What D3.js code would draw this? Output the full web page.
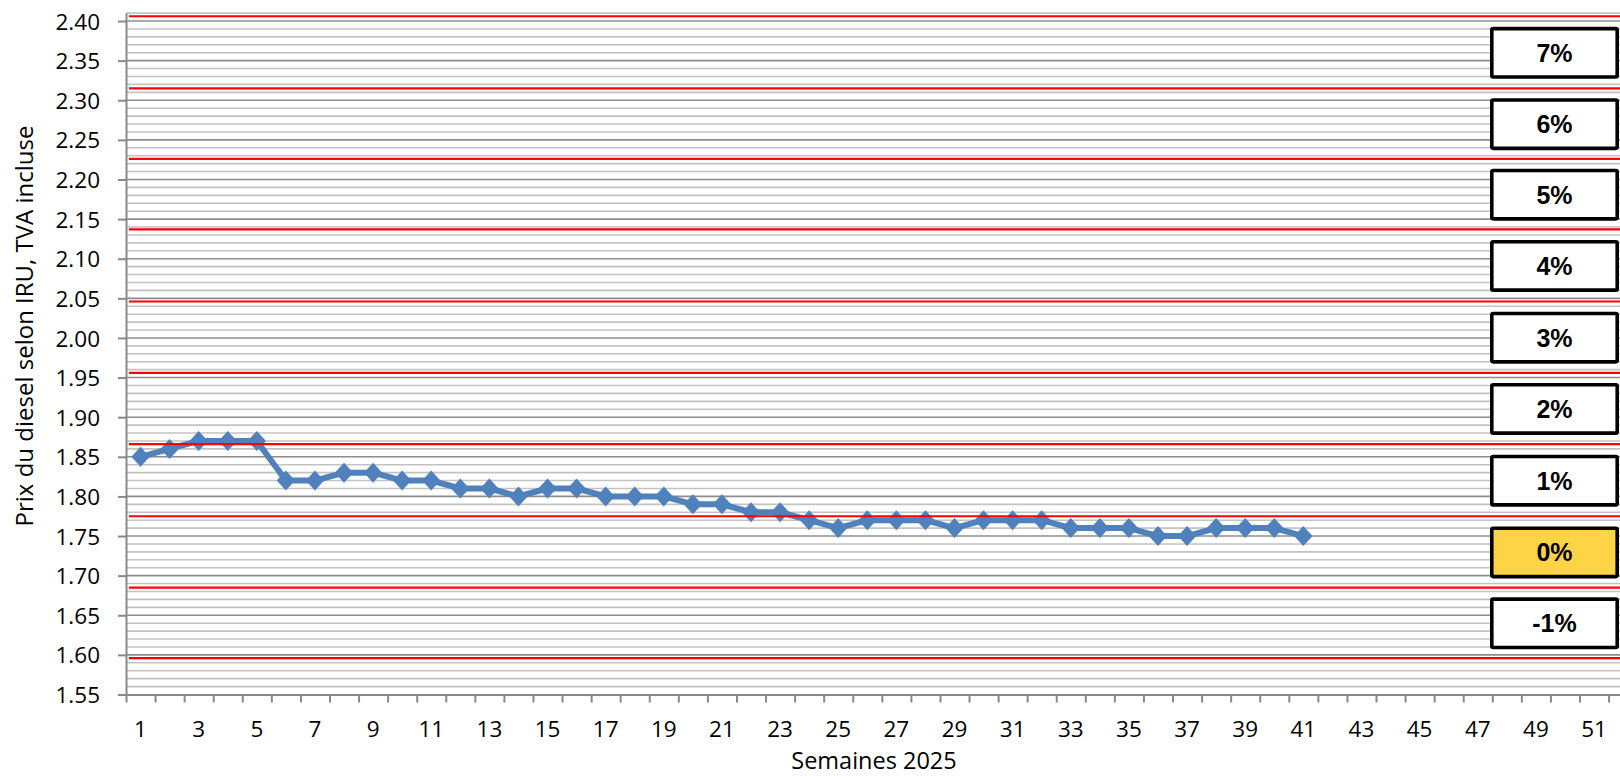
<!DOCTYPE html>
<html>
<head>
<meta charset="utf-8">
<script src="https://cdn.jsdelivr.net/npm/d3@7"></script>
<style>
  html, body { margin: 0; padding: 0; background: #fff; }
  svg { display: block; font-family: "Open Sans", sans-serif; }
</style>
</head>
<body>
<div id="chart"></div>
<script>
// weeks on the category axis
const weeks = d3.range(1, 53);
const weekLabels = [1, 3, 5, 7, 9, 11, 13, 15, 17, 19, 21, 23, 25, 27, 29, 31, 33, 35, 37, 39, 41, 43, 45, 47, 49, 51];

// diesel price per week (weeks 1..41)
const prices = [
  1.85, 1.86, 1.87, 1.87, 1.87, 1.82, 1.82, 1.83, 1.83, 1.82,
  1.82, 1.81, 1.81, 1.80, 1.81, 1.81, 1.80, 1.80, 1.80, 1.79,
  1.79, 1.78, 1.78, 1.77, 1.76, 1.77, 1.77, 1.77, 1.76, 1.77,
  1.77, 1.77, 1.76, 1.76, 1.76, 1.75, 1.75, 1.76, 1.76, 1.76,
  1.75
];

// red threshold lines and the surcharge bands between them
const bandEdges = [1.596, 1.685, 1.775, 1.866, 1.956, 2.046, 2.137, 2.226, 2.315, 2.406];
const bandLabels = ["-1%", "0%", "1%", "2%", "3%", "4%", "5%", "6%", "7%"];
const currentBand = "0%";

const yTicks = [1.55, 1.60, 1.65, 1.70, 1.75, 1.80, 1.85, 1.90, 1.95, 2.00,
                2.05, 2.10, 2.15, 2.20, 2.25, 2.30, 2.35, 2.40];
const yMin = 1.55, yMax = 2.41, minorStep = 0.01;

const width = 1620;
const height = 776;
const marginLeft = 126;
const bandStep = 29.07;
const plotTop = 13.1;
const plotBottom = 694.5;

const blue = "#4f81bd";
const gridMajor = "#8c8c8c";
const gridMinor = "#c3c3c3";
const axisColor = "#898989";

const x = d3.scaleBand()
  .domain(weeks)
  .range([marginLeft, marginLeft + weeks.length * bandStep]);

const xEdge = d3.scaleLinear()
  .domain([0, weeks.length])
  .range(x.range());

const y = d3.scaleLinear()
  .domain([yMin, yMax])
  .range([plotBottom, plotTop]);

const svg = d3.select("#chart")
  .append("svg")
  .attr("width", width)
  .attr("height", height)
  .attr("viewBox", [0, 0, width, height]);

// gridlines
const nMinor = Math.round((yMax - yMin) / minorStep);
const gridValues = d3.range(0, nMinor + 1).map((i) => +(yMin + i * minorStep).toFixed(2));

svg.append("g")
  .selectAll("line")
  .data(gridValues.filter((d) => !yTicks.includes(d)))
  .join("line")
  .attr("x1", marginLeft)
  .attr("x2", width)
  .attr("y1", (d) => y(d))
  .attr("y2", (d) => y(d))
  .attr("stroke", gridMinor)
  .attr("stroke-width", 1.6);

svg.append("g")
  .selectAll("line")
  .data(yTicks.filter((d) => d > yMin))
  .join("line")
  .attr("x1", marginLeft)
  .attr("x2", width)
  .attr("y1", (d) => y(d))
  .attr("y2", (d) => y(d))
  .attr("stroke", gridMajor)
  .attr("stroke-width", 1.6);

// y axis
const yAxisG = svg.append("g")
  .attr("transform", `translate(${marginLeft},0)`)
  .call(
    d3.axisLeft(y)
      .tickValues(yTicks)
      .tickFormat(d3.format(".2f"))
      .tickSize(8)
      .tickSizeOuter(0)
      .tickPadding(18)
  );

// x axis: ticks between categories, labels on odd weeks
const xTickG = svg.append("g")
  .attr("transform", `translate(0,${plotBottom})`)
  .call(
    d3.axisBottom(xEdge)
      .tickValues(d3.range(0, weeks.length + 1))
      .tickFormat("")
      .tickSize(8)
      .tickSizeOuter(0)
  );

const xLabelG = svg.append("g")
  .attr("transform", `translate(0,${plotBottom})`)
  .call(
    d3.axisBottom(x)
      .tickValues(weekLabels)
      .tickSize(0)
      .tickPadding(27)
  );
xLabelG.select(".domain").remove();

[yAxisG, xTickG, xLabelG].forEach((g) => {
  g.select(".domain").attr("stroke", axisColor).attr("stroke-width", 2);
  g.selectAll(".tick line").attr("stroke", axisColor).attr("stroke-width", 2);
  g.selectAll(".tick text")
    .attr("fill", "#000")
    .style("font-family", "'Open Sans', sans-serif")
    .style("font-size", "22.5px");
});
yAxisG.selectAll(".tick text").attr("dy", "0.36em");

// price series
const points = prices.map((p, i) => ({ week: weeks[i], price: p }));
const cx = (d) => x(d.week) + x.bandwidth() / 2;

svg.append("path")
  .datum(points)
  .attr("fill", "none")
  .attr("stroke", blue)
  .attr("stroke-width", 6)
  .attr("stroke-linejoin", "round")
  .attr("d", d3.line().x(cx).y((d) => y(d.price)));

svg.append("g")
  .selectAll("path")
  .data(points)
  .join("path")
  .attr("transform", (d) => `translate(${cx(d)},${y(d.price)})`)
  .attr("d", "M0,-10L9.2,0L0,10L-9.2,0Z")
  .attr("fill", blue);

// red threshold lines
svg.append("g")
  .selectAll("line")
  .data(bandEdges)
  .join("line")
  .attr("x1", marginLeft + 3)
  .attr("x2", width)
  .attr("y1", (d) => y(d))
  .attr("y2", (d) => y(d))
  .attr("stroke", "#ff0000")
  .attr("stroke-width", 2.2);

// band label boxes
const boxLeft = 1490, boxRight = 1619, boxHeight = 52, boxStroke = 3.6;
const bands = bandLabels.map((label, i) => ({
  label,
  lo: bandEdges[i],
  hi: bandEdges[i + 1],
}));

const box = svg.append("g")
  .selectAll("g")
  .data(bands)
  .join("g")
  .attr("transform", (d) => `translate(0,${y((d.lo + d.hi) / 2) + 0.5})`);

box.append("rect")
  .attr("x", boxLeft + boxStroke / 2)
  .attr("y", -boxHeight / 2 + boxStroke / 2)
  .attr("width", boxRight - boxLeft - boxStroke)
  .attr("height", boxHeight - boxStroke)
  .attr("rx", 1.5)
  .attr("fill", (d) => (d.label === currentBand ? "#fed447" : "#fff"))
  .attr("stroke", "#000")
  .attr("stroke-width", boxStroke);

box.append("text")
  .attr("x", (boxLeft + boxRight) / 2)
  .attr("dy", "0.36em")
  .attr("text-anchor", "middle")
  .style("font-family", "'Liberation Sans', Arial, sans-serif")
  .style("font-weight", "bold")
  .style("font-size", "25px")
  .text((d) => d.label);

// axis titles
svg.append("text")
  .attr("transform", `translate(33,326) rotate(-90)`)
  .attr("text-anchor", "middle")
  .style("font-size", "24px")
  .text("Prix du diesel selon IRU, TVA incluse");

svg.append("text")
  .attr("x", 874)
  .attr("y", 769)
  .attr("text-anchor", "middle")
  .style("font-size", "23.5px")
  .text("Semaines 2025");
</script>
</body>
</html>
